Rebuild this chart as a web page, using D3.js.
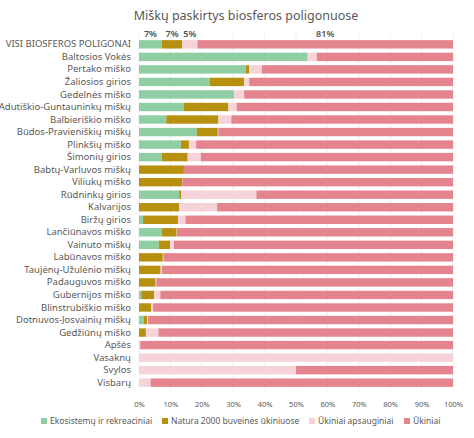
<!DOCTYPE html>
<html>
<head>
<meta charset="utf-8">
<script src="https://cdn.jsdelivr.net/npm/d3@7"></script>
<style>
  body { margin: 0; background: #fff; }
  text { font-family: "Noto Sans", "Open Sans", sans-serif; }
</style>
</head>
<body>
<svg id="chart" width="474" height="438"></svg>
<script>
const categories = [
  "VISI BIOSFEROS POLIGONAI", "Baltosios Vokės", "Pertako miško", "Žaliosios girios",
  "Gedelnės miško", "Adutiškio-Guntauninkų miškų", "Balbieriškio miško",
  "Būdos-Pravieniškių miškų", "Plinkšių miško", "Šimonių girios", "Babtų-Varluvos miškų",
  "Viliukų miško", "Rūdninkų girios", "Kalvarijos", "Biržų girios", "Lančiūnavos miško",
  "Vainuto miškų", "Labūnavos miško", "Taujėnų-Užulėnio miškų", "Padauguvos miško",
  "Gubernijos miško", "Blinstrubiškio miško", "Dotnuvos-Josvainių miškų", "Gedžiūnų miško",
  "Apšės", "Vasaknų", "Svylos", "Visbarų"
];
const seriesNames = ["Ekosistemų ir rekreaciniai", "Natura 2000 buveinės ūkiniuose", "Ūkiniai apsauginiai", "Ūkiniai"];
const ekosistemu = [7.3, 53.7, 34.0, 22.6, 30.3, 14.3, 8.7, 18.4, 13.3, 7.3, 0, 0, 12.8, 0, 1.3, 7.3, 6.3, 0, 0, 0, 0.7, 0, 1.5, 0, 0, 0, 0, 0];
const natura = [6.5, 0, 1.1, 10.9, 0, 14.2, 16.6, 6.7, 2.6, 8.2, 14.3, 13.8, 0.7, 12.8, 11.1, 4.7, 3.6, 7.6, 6.9, 5.3, 4.1, 3.9, 1.1, 2.2, 0, 0, 0, 0];
const apsauginiai = [4.8, 2.9, 4.0, 1.6, 3.2, 2.6, 4.1, 0.2, 2.3, 4.2, 0, 0, 23.9, 12.1, 2.4, 0.1, 1.2, 0.2, 0.4, 0.2, 2.0, 0.6, 0.3, 4.0, 0.4, 100, 50.0, 3.7];
const ukiniai = [81.4, 43.4, 60.9, 64.9, 66.5, 68.9, 70.6, 74.7, 81.8, 80.3, 85.7, 86.2, 62.6, 75.1, 85.2, 87.9, 88.9, 92.2, 92.7, 94.5, 93.2, 95.5, 97.1, 93.8, 99.6, 0, 50.0, 96.3];
const topLabels = ["7%", "7%", "5%", "81%"];
const xTicks = [0, 10, 20, 30, 40, 50, 60, 70, 80, 90, 100];
const colors = ["#8fcea2", "#b8900f", "#f6d2d9", "#e3848e"];

const svg = d3.select("#chart");
const margin = { top: 36, right: 21, bottom: 47, left: 139 };
const width = 474, height = 438;

const rows = categories.map((c, i) => ({
  name: c,
  values: [ekosistemu[i], natura[i], apsauginiai[i], ukiniai[i]]
}));

const x = d3.scaleLinear().domain([0, 100]).range([margin.left, width - margin.right]);
const y = d3.scaleBand().domain(categories).range([margin.top, height - margin.bottom]).padding(0.33);

// gridlines
svg.append("g")
  .selectAll("line")
  .data(xTicks)
  .join("line")
  .attr("x1", d => x(d)).attr("x2", d => x(d))
  .attr("y1", margin.top - 2).attr("y2", height - margin.bottom)
  .attr("stroke", "#ececec").attr("stroke-width", 0.8);

// stacked bars
const stacked = d3.stack().keys([0, 1, 2, 3]).value((d, k) => d.values[k])(rows);

svg.append("g")
  .selectAll("g")
  .data(stacked)
  .join("g")
  .attr("fill", (d, i) => colors[i])
  .selectAll("rect")
  .data(d => d.map(s => ({ s, name: s.data.name })))
  .join("rect")
  .attr("x", d => x(d.s[0]))
  .attr("y", d => y(d.name))
  .attr("width", d => Math.max(0, x(d.s[1]) - x(d.s[0])))
  .attr("height", y.bandwidth());

// top row labels
svg.append("g")
  .selectAll("text")
  .data(stacked.map((s, i) => ({ s: s[0], label: topLabels[i] })))
  .join("text")
  .attr("x", d => x((d.s[0] + d.s[1]) / 2))
  .attr("y", y(categories[0]) - 3)
  .attr("text-anchor", "middle")
  .style("font-size", "9px")
  .style("font-weight", "600")
  .attr("fill", "#505050")
  .text(d => d.label);

// category labels
svg.append("g")
  .attr("transform", `translate(${margin.left - 8},0)`)
  .call(d3.axisLeft(y).tickSize(0).tickPadding(0))
  .call(g => g.select(".domain").remove())
  .selectAll("text")
  .style("font-size", "9.5px")
  .style("font-family", "'Noto Sans', sans-serif")
  .attr("fill", "#595959");

// x axis
svg.append("g")
  .attr("transform", `translate(0,${height - margin.bottom + 8})`)
  .call(d3.axisBottom(x).tickValues(xTicks).tickFormat(d => d + "%").tickSize(0))
  .call(g => g.select(".domain").remove())
  .selectAll("text")
  .style("font-size", "7.5px")
  .style("font-family", "'Noto Sans', sans-serif")
  .attr("fill", "#595959");

// title
svg.append("text")
  .attr("x", 246)
  .attr("y", 20)
  .attr("text-anchor", "middle")
  .style("font-size", "12.5px")
  .attr("fill", "#595959")
  .text("Miškų paskirtys biosferos poligonuose");

// legend
const legendX = [41, 162, 309, 404];
const legend = svg.append("g")
  .selectAll("g")
  .data(seriesNames)
  .join("g")
  .attr("transform", (d, i) => `translate(${legendX[i]},424)`);

legend.append("rect")
  .attr("x", 0).attr("y", -6)
  .attr("width", 6).attr("height", 6)
  .attr("fill", (d, i) => colors[i]);

legend.append("text")
  .attr("x", 9)
  .attr("y", 0)
  .style("font-size", "8.5px")
  .attr("fill", "#595959")
  .text(d => d);
</script>
</body>
</html>
